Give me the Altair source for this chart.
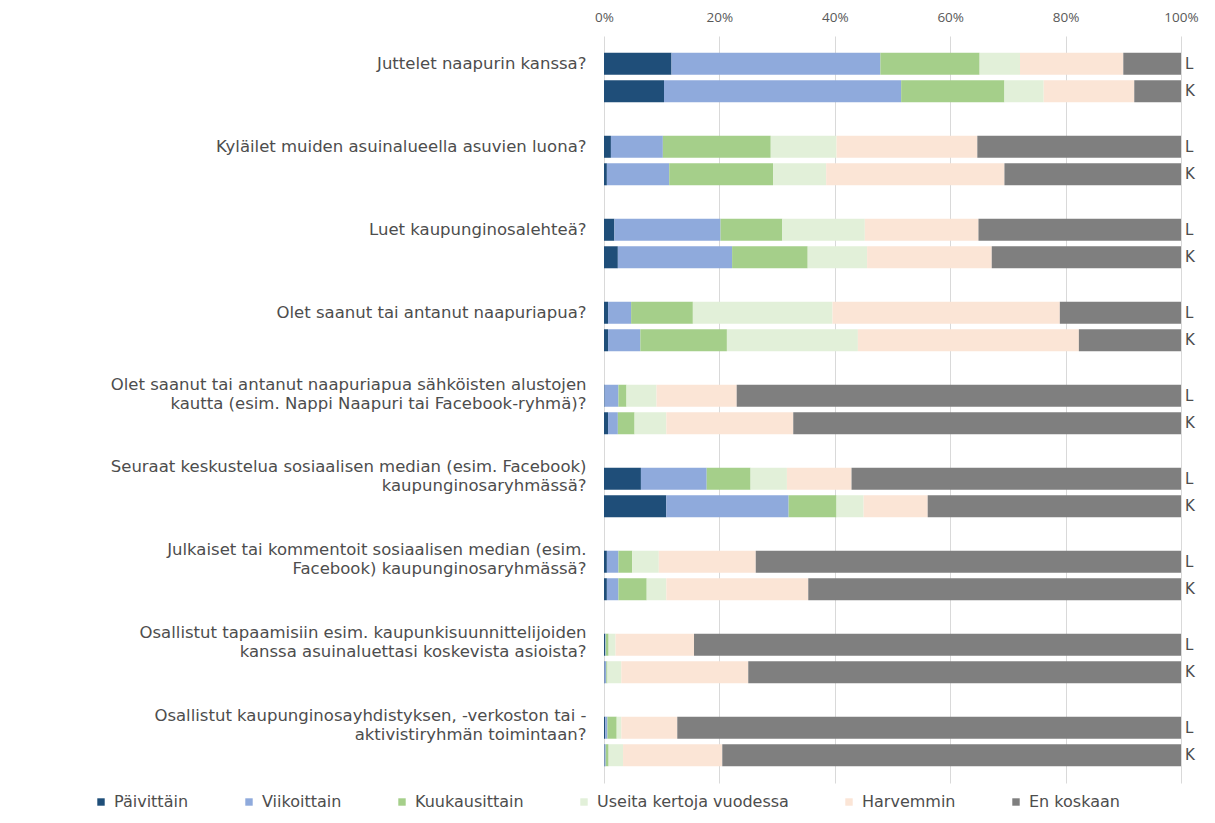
import altair as alt
import pandas as pd

FONT = "DejaVu Sans"
AXFONT = "Open Sans"

questions = [
    "Juttelet naapurin kanssa?",
    "Kyläilet muiden asuinalueella asuvien luona?",
    "Luet kaupunginosalehteä?",
    "Olet saanut tai antanut naapuriapua?",
    "Olet saanut tai antanut naapuriapua sähköisten alustojen|kautta (esim. Nappi Naapuri tai Facebook-ryhmä)?",
    "Seuraat keskustelua sosiaalisen median (esim. Facebook)|kaupunginosaryhmässä?",
    "Julkaiset tai kommentoit sosiaalisen median (esim.|Facebook) kaupunginosaryhmässä?",
    "Osallistut tapaamisiin esim. kaupunkisuunnittelijoiden|kanssa asuinaluettasi koskevista asioista?",
    "Osallistut kaupunginosayhdistyksen, -verkoston tai -|aktivistiryhmän toimintaan?",
]
groups = ["L", "K"]
categories = ["Päivittäin", "Viikoittain", "Kuukausittain",
              "Useita kertoja vuodessa", "Harvemmin", "En koskaan"]
colors = ["#1f4e79", "#8faadc", "#a5cf8a", "#e2f0d9", "#fbe5d6", "#7f7f7f"]

# values per question, L then K (percent)
paivittain    = [11.7, 10.4, 1.2, 0.5, 1.8, 2.4, 0.7, 0.7, 0.1, 0.7, 6.4, 10.8, 0.5, 0.5, 0.2, 0.1, 0.2, 0.1]
viikoittain   = [36.2, 41.1, 9.0, 10.8, 18.4, 19.8, 4.0, 5.6, 2.4, 1.7, 11.4, 21.2, 2.0, 2.0, 0.1, 0.3, 0.4, 0.2]
kuukausittain = [17.2, 17.9, 18.7, 18.0, 10.7, 13.1, 10.7, 15.0, 1.4, 2.9, 7.6, 8.3, 2.4, 4.9, 0.5, 0.2, 1.6, 0.5]
useita        = [7.0, 6.8, 11.4, 9.2, 14.3, 10.3, 24.2, 22.7, 5.2, 5.5, 6.3, 4.7, 4.6, 3.4, 1.2, 2.4, 0.8, 2.5]
harvemmin     = [17.9, 15.7, 24.4, 30.9, 19.7, 21.6, 39.4, 38.3, 13.9, 22.0, 11.2, 11.1, 16.8, 24.6, 13.6, 22.0, 9.7, 17.2]
en_koskaan    = [10.0, 8.1, 35.3, 30.6, 35.1, 32.8, 21.0, 17.7, 77.0, 67.2, 57.1, 43.9, 73.7, 64.6, 84.4, 75.0, 87.3, 79.5]

series = [paivittain, viikoittain, kuukausittain, useita, harvemmin, en_koskaan]

rows = []
for ci, (cat, vals) in enumerate(zip(categories, series)):
    for i, v in enumerate(vals):
        rows.append({"q": questions[i // 2], "g": groups[i % 2], "cat": cat, "ci": ci, "v": v})
df = pd.DataFrame(rows)
df_lk = pd.DataFrame([{"q": q, "g": g} for q in questions for g in groups])

y_enc = alt.Y(
    "q:N", sort=questions,
    scale=alt.Scale(paddingInner=0.337, paddingOuter=0.169),
    axis=alt.Axis(
        title=None, domain=False, ticks=False,
        labelExpr="split(datum.label, '|')",
        labelFont=FONT, labelFontSize=16.5, labelColor="#4d4d4d",
        labelPadding=18, labelLimit=0, labelLineHeight=19,
        labelOffset={"condition": {"test": "indexof(datum.label, '|') >= 0", "value": -25}, "value": -14},
        labelAlign="right",
    ),
)
yoff_enc = alt.YOffset("g:N", sort=groups, scale=alt.Scale(paddingInner=0.2, paddingOuter=0.1))

bars = alt.Chart(df).mark_bar().encode(
    y=y_enc,
    yOffset=yoff_enc,
    x=alt.X(
        "v:Q", stack="normalize",
        scale=alt.Scale(domain=[0, 1], nice=False),
        axis=alt.Axis(
            orient="top", format=".0%", values=[0, 0.2, 0.4, 0.6, 0.8, 1.0],
            title=None, domain=False, ticks=False, grid=True,
            gridColor="#d9d9d9", gridWidth=1, labelFlush=False,
            labelFont=AXFONT, labelFontSize=13.5, labelColor="#595959", labelPadding=12,
        ),
    ),
    color=alt.Color(
        "cat:N", sort=categories,
        scale=alt.Scale(domain=categories, range=colors),
        legend=alt.Legend(
            orient="none", legendX=-511, legendY=758, direction="horizontal",
            title=None, symbolType="square", symbolSize=55, symbolStrokeWidth=0,
            labelFont=FONT, labelFontSize=16, labelColor="#4d4d4d", labelLimit=0,
            columnPadding=52, labelOffset=5,
        ),
    ),
    order=alt.Order("ci:Q"),
)

lk = alt.Chart(df_lk).mark_text(
    align="left", baseline="middle", dx=4, fontSize=15, font=FONT, color="#4d4d4d"
).encode(
    y=alt.Y("q:N", sort=questions),
    yOffset=alt.YOffset("g:N", sort=groups),
    x=alt.datum(1.0),
    text="g:N",
)

chart = alt.layer(bars, lk).properties(
    width=577, height=747,
    autosize=alt.AutoSizeParams(type="none"),
    padding={"left": 596, "top": 28, "right": 26, "bottom": 32},
).configure_view(stroke=None)

chart.save("out.html", embed_options={"renderer": "svg", "actions": False})
